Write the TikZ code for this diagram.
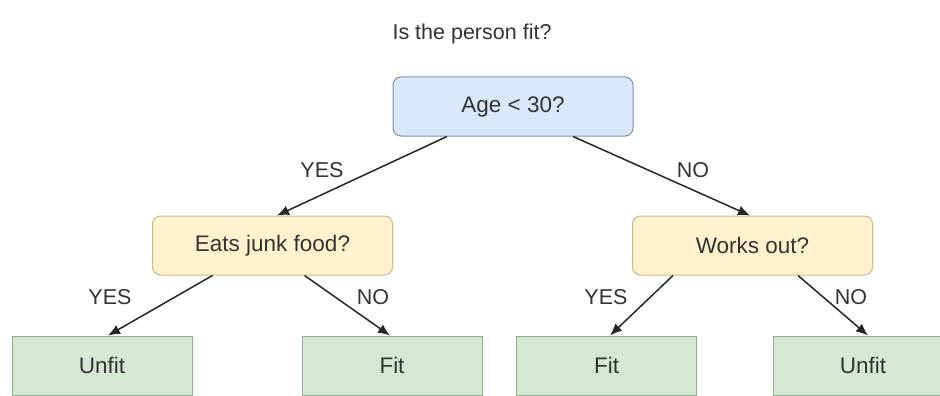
\documentclass[tikz,border=0pt]{standalone}
\usepackage{fontspec}
\setmainfont{Liberation Sans}
\usetikzlibrary{arrows.meta}
\definecolor{bluefill}{HTML}{DAE8FC}
\definecolor{blueline}{HTML}{7F93AE}
\definecolor{yelfill}{HTML}{FFF2CC}
\definecolor{yelline}{HTML}{C9B98A}
\definecolor{grnfill}{HTML}{D5E8D4}
\definecolor{grnline}{HTML}{8FAE8C}
\definecolor{txt}{HTML}{333333}
\tikzset{
  base/.style={minimum width=240pt, minimum height=59pt, inner sep=0pt, line width=1pt, text=txt, font=\fontsize{22.5}{26}\selectfont},
  rootbox/.style={base, rounded corners=8pt, draw=blueline, fill=bluefill},
  qbox/.style={base, rounded corners=8pt, draw=yelline, fill=yelfill},
  leafbox/.style={base, minimum width=180pt, draw=grnline, fill=grnfill},
  lbl/.style={text=txt, font=\fontsize{21.5}{25}\selectfont, inner sep=0pt},
  conn/.style={line width=1.5pt, draw=black!85, -{Latex[length=12pt,width=10pt]}}
}
\begin{document}
\begin{tikzpicture}[x=1pt,y=-1pt]
\useasboundingbox (0,0) rectangle (940,396);
\clip (0,0) rectangle (940,396);
\fill[white] (0,0) rectangle (940,396);
\node[lbl] (title) at (472,34) {Is the person fit?};
\node[rootbox] (age) at (513,106.5) {Age < 30?};
\node[qbox] (eats) at (272.5,245.5) {Eats junk food?};
\node[qbox] (works) at (752.5,245.5) {Works out?};
\node[leafbox] (u1) at (102,365.5) {Unfit};
\node[leafbox] (f1) at (392,365.5) {Fit};
\node[leafbox] (f2) at (606.5,365.5) {Fit};
\node[leafbox] (u2) at (863,365.5) {Unfit};
\draw[conn] ([xshift=-66pt]age.south) -- ([xshift=4.5pt]eats.north);
\draw[conn] ([xshift=60pt]age.south) -- ([xshift=-2.5pt]works.north);
\draw[conn] ([xshift=-60pt]eats.south) -- ([xshift=6pt]u1.north);
\draw[conn] ([xshift=32pt]eats.south) -- ([xshift=-2pt]f1.north);
\draw[conn] ([xshift=-79.5pt]works.south) -- ([xshift=3.5pt]f2.north);
\draw[conn] ([xshift=45.5pt]works.south) -- ([xshift=5pt]u2.north);
\node[lbl] (l1) at (322,170) {YES};
\node[lbl] (l2) at (693,170) {NO};
\node[lbl] (l3) at (110,297) {YES};
\node[lbl] (l4) at (373,297) {NO};
\node[lbl] (l5) at (606,297) {YES};
\node[lbl] (l6) at (851,297) {NO};
\end{tikzpicture}
\end{document}
